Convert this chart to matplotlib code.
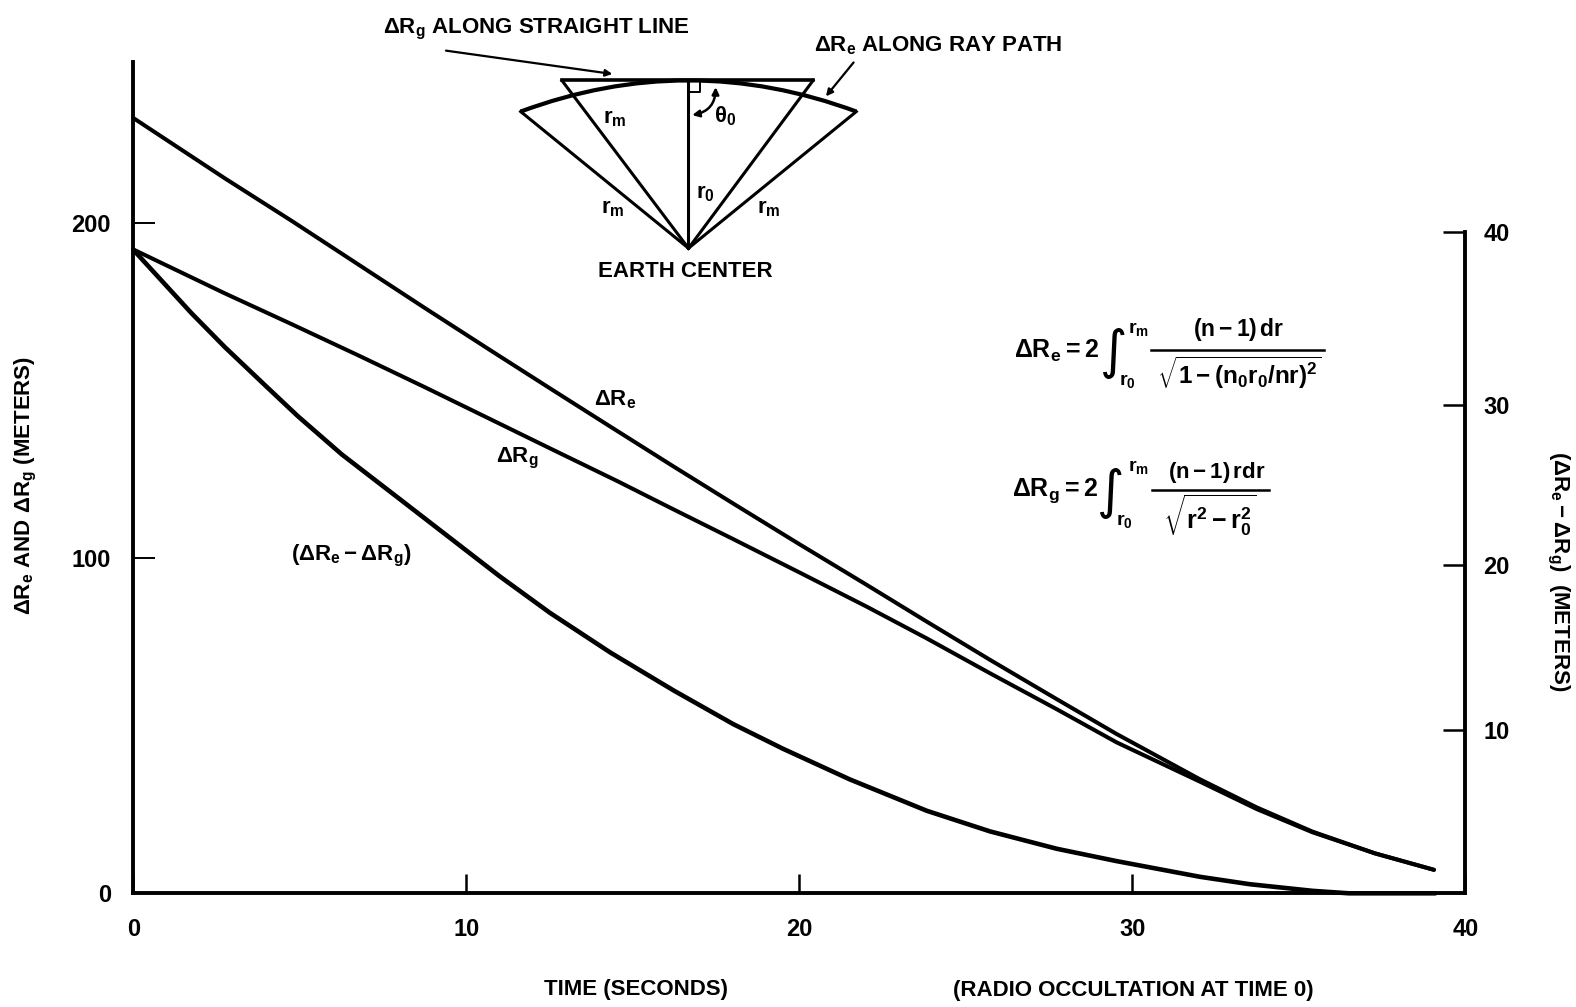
import numpy as np
import matplotlib
matplotlib.use("Agg")
import matplotlib.pyplot as plt
from matplotlib.patches import PathPatch
from matplotlib.path import Path

plt.rcParams['font.family'] = ['Liberation Sans', 'DejaVu Sans']
plt.rcParams['font.weight'] = 'bold'
plt.rcParams['mathtext.fontset'] = 'custom'
plt.rcParams['mathtext.rm'] = 'Liberation Sans:bold'
plt.rcParams['mathtext.it'] = 'Liberation Sans:bold'
plt.rcParams['mathtext.bf'] = 'Liberation Sans:bold'
plt.rcParams['mathtext.default'] = 'rm'

# values
re_time = [0, 2.75, 4.76, 6.76, 8.76, 10.76, 12.51, 14.32, 16.22, 18.02, 20.02, 22.02, 23.83,
           25.73, 27.73, 29.53, 32.03, 33.74, 35.41, 37.29, 39.06]
delta_re = [231.2, 213.2, 200.5, 187.5, 174.5, 161.7, 150.6, 139.2, 127.3, 116.2, 104, 92, 81,
            69.6, 57.9, 47.5, 34, 25.6, 18.4, 11.9, 7]
rg_time = [0, 2.75, 4.76, 6.76, 8.76, 10.76, 12.51, 14.52, 16.22, 18.02, 20.02, 22.02, 23.83,
           25.73, 27.73, 29.53, 32.03, 33.74, 35.41, 37.29, 39.06]
delta_rg = [192, 178.9, 169.7, 160.4, 150.9, 141.2, 132.7, 123, 114.5, 105.6, 95.6, 85.5, 76,
            65.6, 54.9, 45, 33.3, 25.1, 18.2, 11.9, 7]
diff_time = [0, 1.75, 2.75, 3.95, 4.95, 6.26, 8.06, 11.01, 12.51, 14.32, 16.22, 18.02, 19.52,
             21.52, 23.83, 25.73, 27.73, 29.53, 32.03, 33.53, 35.41, 36.5, 39.1]
diff_re_rg = [39, 35.15, 33.1, 30.8, 28.9, 26.6, 23.8, 19.2, 17, 14.6, 12.3, 10.25, 8.75,
              6.9, 5, 3.75, 2.7, 1.95, 1, 0.55, 0.15, 0, 0]

x_ticks = [0, 10, 20, 30, 40]
left_ticks = [0, 100, 200]
# the ticks on the right are hand drawn and not quite evenly spaced
right_ticks = [9.9, 19.9, 29.6, 40.1]
right_labels = ['10', '20', '30', '40']

FW, FH = 1576, 1007
W, H = 1568, 1002
fig = plt.figure(figsize=(FW / 100, FH / 100), dpi=100)
ax = fig.add_axes([133.3 / FW, 1 - 893.3 / FH, 1332 / FW, 831.3 / FH])
ax.set_xlim(0, 40)
ax.set_ylim(0, 247.9)
ax2 = ax.twinx()
ax2.set_ylim(0, 50.38)

ax.plot(re_time, delta_re, color='black', lw=2.9, solid_capstyle='round', clip_on=False)
ax.plot(rg_time, delta_rg, color='black', lw=2.9, solid_capstyle='round', clip_on=False)
ax2.plot(diff_time, diff_re_rg, color='black', lw=3.3, solid_capstyle='round', clip_on=False)

for a in [ax, ax2]:
    a.spines['top'].set_visible(False)
    a.patch.set_visible(False)
    for s in a.spines.values():
        s.set_linewidth(2.8)
ax2.spines['left'].set_visible(False)
ax2.spines['bottom'].set_visible(False)
ax.spines['right'].set_visible(False)
ax2.spines['right'].set_bounds(0, 40.1)

ax.set_xticks(x_ticks)
ax.set_yticks(left_ticks)
ax2.set_yticks(right_ticks, labels=right_labels)
ax.tick_params(axis='x', direction='in', length=14, width=1.8, labelsize=17, pad=18)
ax.tick_params(axis='y', direction='in', length=16, width=1.4, labelsize=17, pad=16)
ax2.tick_params(axis='y', direction='in', length=16, width=1.8, labelsize=17, pad=13)

# overlay in picture pixels for the inset sketch and the captions
ov = fig.add_axes([0, 0, 1, 1])
ov.set_xlim(0, W)
ov.set_ylim(H, 0)
ov.axis('off')

# sketch of the geometry
center = (685, 247)
top_y = 80
line_ends = [(559, top_y), (809, top_y)]
arc_ends = [(518, 111), (852, 111)]
for p in line_ends + arc_ends + [(685, top_y)]:
    ov.plot([center[0], p[0]], [center[1], p[1]], color='black', lw=2.2)
ov.plot([p[0] for p in line_ends], [top_y, top_y], color='black', lw=2.6)
arc = Path([arc_ends[0], (685, 49), arc_ends[1]], [Path.MOVETO, Path.CURVE3, Path.CURVE3])
ov.add_patch(PathPatch(arc, fill=False, color='black', lw=3.0))
ov.plot([685, 696, 696], [92, 92, 80], color='black', lw=1.4)
ov.annotate('', xy=(712, 84), xytext=(686, 115),
            arrowprops=dict(arrowstyle='<|-|>', color='black', lw=1.8, connectionstyle='arc3,rad=0.45'))
ov.annotate('', xy=(612, 74), xytext=(441, 50),
            arrowprops=dict(arrowstyle='-|>', color='black', lw=1.6))
ov.annotate('', xy=(820, 98), xytext=(851, 60),
            arrowprops=dict(arrowstyle='-|>', color='black', lw=1.6))

def label(x, y, s, size=16, **kw):
    ov.text(x, y, s, fontsize=size, ha='center', va='center', weight='bold', **kw)

label(534, 29, r'$\Delta R_g$ ALONG STRAIGHT LINE')
label(933, 45, r'$\Delta R_e$ ALONG RAY PATH')
label(612, 118, r'$r_m$')
label(721, 116, r'$\theta_0$')
label(702, 193, r'$r_0$')
label(610, 207, r'$r_m$')
label(765, 207, r'$r_m$')
label(682, 270, 'EARTH CENTER')
label(612, 398, r'$\Delta R_e$')
label(515, 456, r'$\Delta R_g$')
label(349, 553, r'$(\Delta R_e - \Delta R_g)$')
label(633, 985, 'TIME (SECONDS)')
label(1128, 986, '(RADIO OCCULTATION AT TIME 0)')
label(26, 483, r'$\Delta R_e$ AND $\Delta R_g$ (METERS)', rotation=90)
label(1550, 568, r'$(\Delta R_e - \Delta R_g)$  (METERS)', rotation=270)

# the two formulas, piece by piece
label(1051, 349, r'$\Delta R_e = 2$', size=18)
ov.text(1108, 351, '\u222b', fontsize=38, ha='center', va='center', family='DejaVu Sans', weight='normal')
label(1133, 327, r'$r_m$', size=14)
label(1122, 379, r'$r_0$', size=14)
label(1232, 328, r'$(n-1)\,dr$', size=16.5)
ov.plot([1145, 1317], [348, 348], color='black', lw=1.8)
label(1233, 371, r'$\sqrt{1-(n_0r_0/nr)^2}$', size=17.5)

label(1050, 488, r'$\Delta R_g = 2$', size=18)
ov.text(1105, 491, '\u222b', fontsize=38, ha='center', va='center', family='DejaVu Sans', weight='normal')
label(1133, 465, r'$r_m$', size=14)
label(1119, 518, r'$r_0$', size=14)
label(1211, 470, r'$(n-1)\,rdr$', size=16)
ov.plot([1146, 1263], [488, 488], color='black', lw=1.8)
label(1203, 513, r'$\sqrt{r^2-r_0^2}$', size=18)

fig.savefig('out.png', dpi=100)
